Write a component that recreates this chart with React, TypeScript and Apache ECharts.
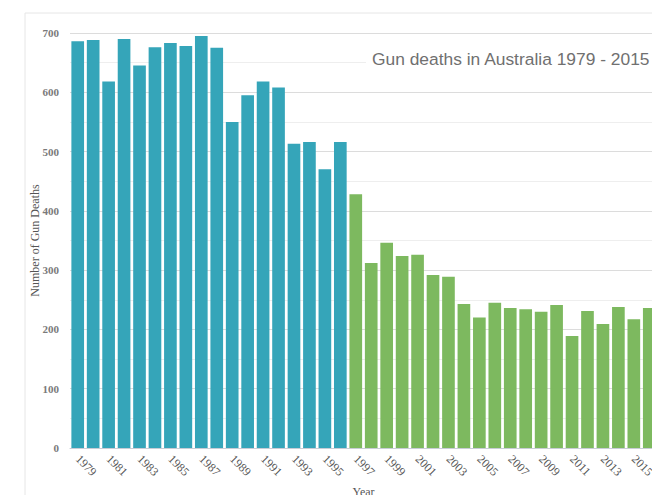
import React, { useEffect, useRef } from "react";
import * as echarts from "echarts";

const years: string[] = [
  "1979", "1980", "1981", "1982", "1983", "1984", "1985", "1986", "1987", "1988",
  "1989", "1990", "1991", "1992", "1993", "1994", "1995", "1996", "1997", "1998",
  "1999", "2000", "2001", "2002", "2003", "2004", "2005", "2006", "2007", "2008",
  "2009", "2010", "2011", "2012", "2013", "2014", "2015", "2016",
];

const beforeValues: (number | null)[] = [
  686, 688, 618, 690, 645, 676, 683, 678, 695, 675,
  550, 595, 618, 608, 513, 516, 470, 516,
];

const afterValues: (number | null)[] = [
  428, 312, 346, 324, 326, 292, 289, 243, 220, 245,
  236, 234, 230, 241, 189, 231, 209, 238, 217, 236,
];

const yTicks: number[] = [0, 100, 200, 300, 400, 500, 600, 700];

const TEAL = "#35a5b9";
const GREEN = "#7db95f";

export default function App() {
  const ref = useRef<HTMLDivElement>(null);

  useEffect(() => {
    if (!ref.current) return;
    const chart = echarts.init(ref.current, undefined, { renderer: "svg" });
    const tealData = years.map((_, i) => (i < beforeValues.length ? beforeValues[i] : null));
    const greenData = years.map((_, i) =>
      i >= beforeValues.length ? afterValues[i - beforeValues.length] : null
    );
    chart.setOption({
      animation: false,
      backgroundColor: "#ffffff",
      title: {
        text: "Gun deaths in Australia 1979 - 2015",
        left: 366,
        top: 46,
        padding: [4, 6],
        backgroundColor: "#ffffff",
        textStyle: {
          fontFamily: "Liberation Sans, Arial, sans-serif",
          fontSize: 17.4,
          fontWeight: "normal",
          color: "#707070",
        },
      },
      graphic: [
        {
          type: "line",
          shape: { x1: 25, y1: 13, x2: 700, y2: 13 },
          style: { stroke: "#e6e6e6", lineWidth: 1 },
          z: 0,
        },
        {
          type: "line",
          shape: { x1: 25, y1: 13, x2: 25, y2: 495 },
          style: { stroke: "#e6e6e6", lineWidth: 1 },
          z: 0,
        },
      ],
      grid: {
        left: 70,
        top: 33,
        width: 587,
        height: 415,
        containLabel: false,
        outerBoundsMode: "none",
      },
      xAxis: {
        type: "category",
        data: years,
        name: "Year",
        nameLocation: "middle",
        nameGap: 38,
        nameMoveOverlap: false,
        nameTextStyle: {
          fontFamily: "Liberation Serif, DejaVu Serif, serif",
          fontSize: 12,
          color: "#555",
        },
        axisLine: { show: true, lineStyle: { color: "#c8cdd6", width: 1 } },
        axisTick: { show: false },
        axisLabel: {
          interval: 1,
          rotate: -45,
          margin: 9,
          fontFamily: "Liberation Serif, DejaVu Serif, serif",
          fontSize: 12,
          color: "#555",
        },
      },
      yAxis: {
        type: "value",
        min: 0,
        max: 700,
        interval: 100,
        name: "Number of Gun Deaths",
        nameLocation: "middle",
        nameGap: 29,
        nameMoveOverlap: false,
        nameTextStyle: {
          fontFamily: "Liberation Serif, DejaVu Serif, serif",
          fontSize: 12,
          color: "#555",
        },
        axisLine: { show: false },
        axisTick: { show: false },
        axisLabel: {
          margin: 11,
          fontFamily: "Liberation Serif, DejaVu Serif, serif",
          fontSize: 11,
          fontWeight: "bold",
          color: "#7a7a7a",
          formatter: (v: number) => (yTicks.includes(v) ? String(v) : ""),
        },
        splitLine: { show: true, lineStyle: { color: "#dcdcdc", width: 1 } },
        minorTick: { show: false, splitNumber: 2 },
        minorSplitLine: { show: true, lineStyle: { color: "#eeeeee", width: 1 } },
      },
      series: [
        {
          name: "1979-1996",
          type: "bar",
          stack: "all",
          data: tealData,
          barCategoryGap: "18%",
          itemStyle: { color: TEAL },
        },
        {
          name: "1997-2016",
          type: "bar",
          stack: "all",
          data: greenData,
          barCategoryGap: "18%",
          itemStyle: { color: GREEN },
        },
      ],
    });
    return () => chart.dispose();
  }, []);

  return (
    <div
      style={{
        position: "fixed",
        left: 0,
        top: 0,
        width: 652,
        height: 495,
        overflow: "hidden",
        background: "#fff",
      }}
    >
      <div ref={ref} style={{ width: 700, height: 495 }} />
    </div>
  );
}
